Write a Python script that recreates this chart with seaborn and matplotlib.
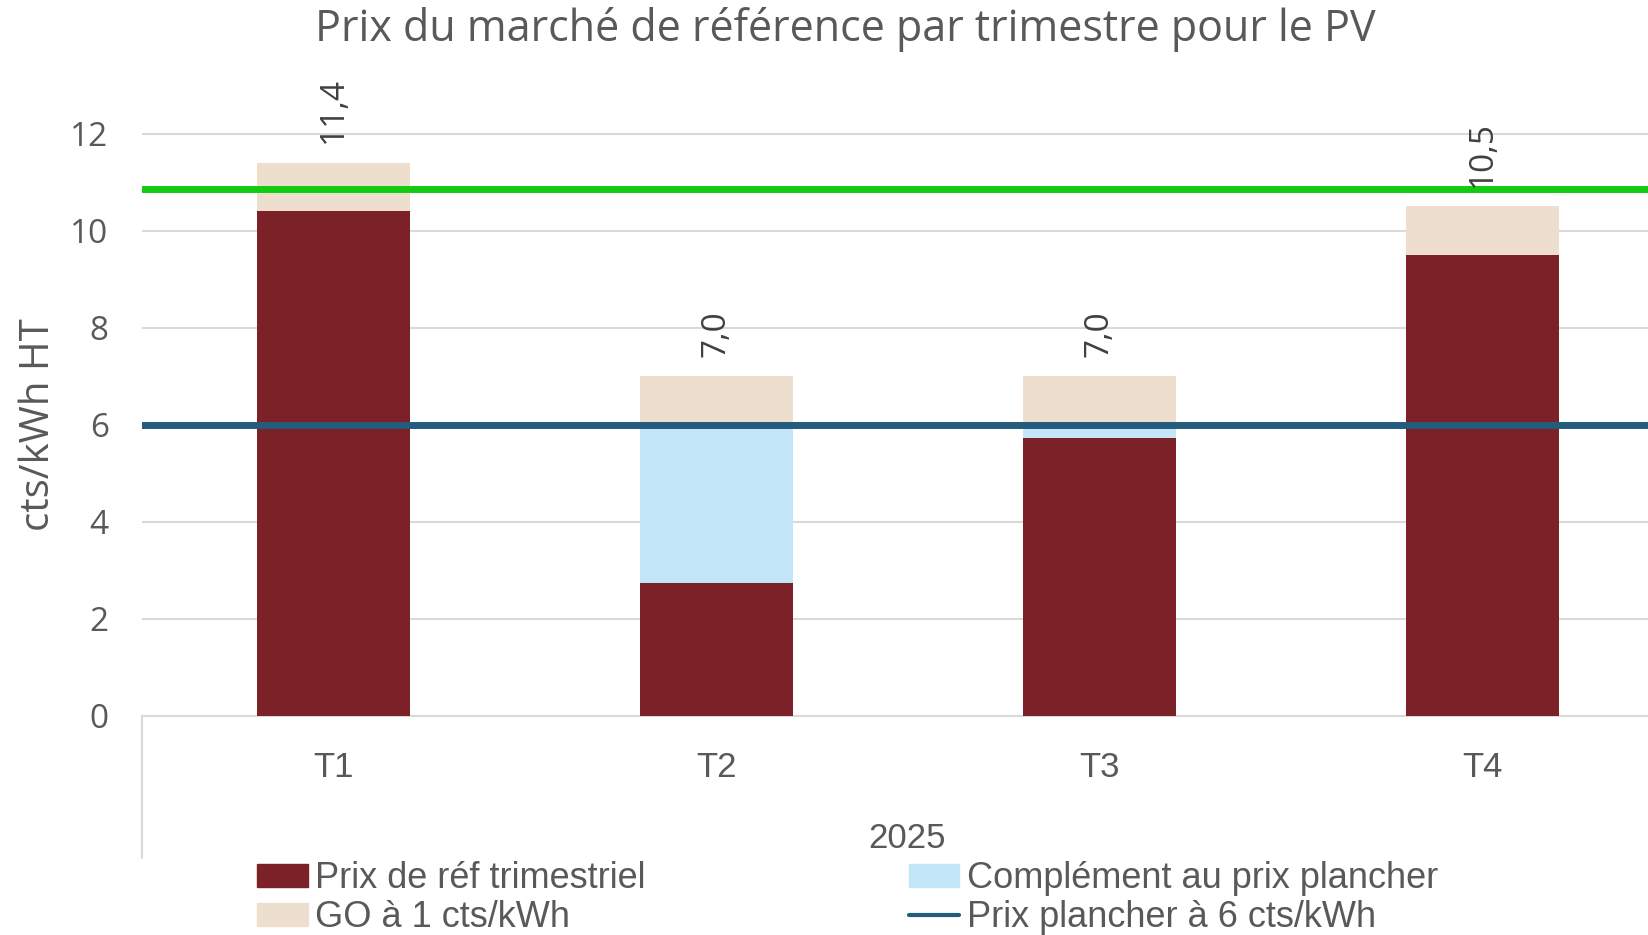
import matplotlib
matplotlib.use("Agg")
import matplotlib.pyplot as plt
import seaborn as sns
import pandas as pd
import numpy as np
from matplotlib.patches import Patch
from matplotlib.lines import Line2D

# ---- data ----
quarters = ["T1", "T2", "T3", "T4"]
year_label = "2025"
prix_ref = [10.4, 2.75, 5.72, 9.5]
complement = [0.0, 3.25, 0.28, 0.0]
go = [1.0, 1.0, 1.0, 1.0]
total_labels = ["11,4", "7,0", "7,0", "10,5"]
prix_plancher = 6.0
green_level = 10.85
y_ticks = [0, 2, 4, 6, 8, 10, 12]

title = "Prix du marché de référence par trimestre pour le PV"
ylabel = "cts/kWh HT"
legend_labels = ["Prix de réf trimestriel", "GO à 1 cts/kWh",
                 "Complément au prix plancher", "Prix plancher à 6 cts/kWh"]

# ---- colours ----
c_ref = "#7B2127"
c_go = "#EDDECE"
c_comp = "#C2E6F8"
c_floor = "#235C7C"
c_green = "#12CC12"
c_text = "#595959"
c_grid = "#D9D9D9"

sns.set_theme(style="white")
reg = ["Open Sans", "DejaVu Sans"]
narrow = ["Liberation Sans", "DejaVu Sans"]
plt.rcParams["font.family"] = reg

df = pd.DataFrame({
    "q": quarters,
    "ref": prix_ref,
    "refcomp": np.array(prix_ref) + np.array(complement),
    "total": np.array(prix_ref) + np.array(complement) + np.array(go),
})

W, H = 1649, 935
fig = plt.figure(figsize=(W / 100, H / 100), dpi=100)
ax = fig.add_axes([142 / W, (H - 716) / H, 1532 / W, (716 - 133.5) / H])

bar_kw = dict(saturation=1, width=0.4, ax=ax, linewidth=0, edgecolor="none")
sns.barplot(data=df, x="q", y="total", color=c_go, zorder=2, **bar_kw)
sns.barplot(data=df, x="q", y="refcomp", color=c_comp, zorder=3, **bar_kw)
sns.barplot(data=df, x="q", y="ref", color=c_ref, zorder=4, **bar_kw)

ax.axhline(prix_plancher, color=c_floor, lw=5, zorder=6)
ax.axhline(green_level, color=c_green, lw=5, zorder=6)

for i, (t, lab) in enumerate(zip(df["total"], total_labels)):
    ax.annotate(lab, (i, t), xytext=(0, 14), textcoords="offset points",
                rotation=90, ha="center", va="bottom", fontsize=24,
                color="#404040", annotation_clip=False, zorder=7)

ax.set_xlim(-0.5, 3.5)
ax.set_ylim(0, 12)
ax.set_yticks(y_ticks)
ax.set_yticklabels([str(v) for v in y_ticks])
ax.yaxis.grid(True, color=c_grid, lw=1.5, zorder=0)
ax.set_axisbelow(True)
for s in ["top", "right", "left"]:
    ax.spines[s].set_visible(False)
ax.spines["bottom"].set_color(c_grid)
ax.spines["bottom"].set_linewidth(1.5)
ax.tick_params(axis="both", length=0)
ax.tick_params(axis="y", pad=24, labelsize=24, labelcolor=c_text)
ax.tick_params(axis="x", pad=25, labelsize=25, labelcolor=c_text)
for lbl in ax.get_xticklabels():
    lbl.set_family(narrow)
ax.set_xlabel("")
ax.set_ylabel(ylabel, fontsize=29, color=c_text)
ax.yaxis.set_label_coords(-(142 - 59) / 1532, 0.5)

# multi-level category separator
ax.plot([0, 0], [0, -(858 - 716) / (716 - 133.5)], transform=ax.transAxes,
        color=c_grid, lw=1.5, clip_on=False)
fig.text(907 / W, 1 - 838 / H, year_label, ha="center", va="center",
         fontsize=25, color=c_text, family=narrow)

fig.text(845 / W, 1 - 30 / H, title, ha="center", va="center",
         fontsize=31, color=c_text)

handles = [Patch(color=c_ref), Patch(color=c_go), Patch(color=c_comp),
           Line2D([], [], color=c_floor, lw=3)]
leg = fig.legend(handles, legend_labels, ncol=2, loc="center left",
                 bbox_to_anchor=(257 / W, 1 - 898 / H), frameon=False,
                 fontsize=26, handlelength=1.4, handleheight=0.6,
                 handletextpad=0.2, columnspacing=7.3, labelspacing=0.12,
                 borderpad=0, borderaxespad=0)
for t in leg.get_texts():
    t.set_color(c_text)
    t.set_family(narrow)

fig.savefig("out.png", dpi=100)
